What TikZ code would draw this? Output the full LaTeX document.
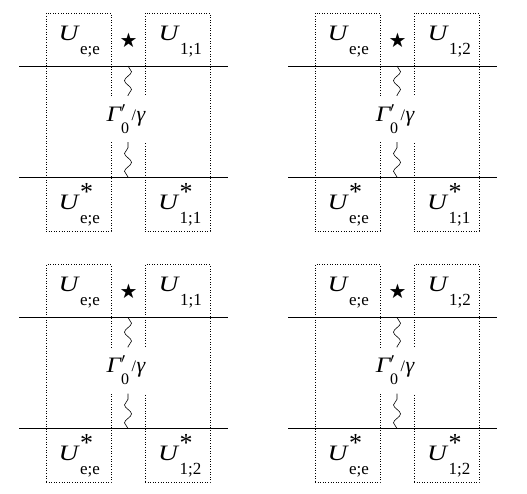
\documentclass[tikz,border=0pt]{standalone}
\usepackage{fontspec}
\setmainfont{Liberation Serif}
\newfontfamily\symfont{DejaVu Sans}
\usetikzlibrary{decorations.pathmorphing}
% U with optional superscript #1 and subscript #2
\newcommand{\Ulab}[2]{\scalebox{1.25}[1]{\fontsize{22}{22}\selectfont\itshape U}\kern1.5pt\rlap{\raisebox{9pt}{\fontsize{26}{26}\selectfont #1}}\raisebox{-14pt}{\fontsize{17}{17}\selectfont #2}}
\newcommand{\Gamlab}{\scalebox{1.15}[1]{\fontsize{22}{22}\selectfont\itshape Γ}\rlap{\raisebox{9pt}{\fontsize{15}{15}\selectfont$\prime$}}\raisebox{-12pt}{\fontsize{16}{16}\selectfont 0}\kern2.5pt\raisebox{1pt}{\fontsize{16}{16}\selectfont /}\kern0.5pt{\fontsize{22}{22}\selectfont\itshape γ}}
\newcommand{\panel}[5]{%
\begin{scope}[shift={(#2,#3)}]
  \node[dotbox, minimum width=65pt, minimum height=218pt] (#1lb) at (78.5,122) {};
  \node[dotbox, minimum width=65pt, minimum height=218pt] (#1rb) at (177.5,122) {};
  \coordinate (#1ta) at (19,66);  \coordinate (#1tb) at (228,66);
  \coordinate (#1ba) at (19,177); \coordinate (#1bb) at (228,177);
  \draw[hline] (#1ta) -- (#1tb);
  \draw[hline] (#1ba) -- (#1bb);
  \node[gam] (#1g) at (126,119) {\Gamlab};
  \coordinate (#1wt) at (128,66);
  \coordinate (#1wb) at (128,177);
  \draw[wave] (#1wt) -- (#1wt |- #1g.north);
  \draw[wave] (#1wb) -- (#1wb |- #1g.south);
  \node[lbl] (#1ul) at (58.5,40) {\Ulab{}{e;e}};
  \node[starlbl] (#1st) at (128.5,40) {★};
  \node[lbl] (#1ur) at (158.5,40) {\Ulab{}{#4}};
  \node[lbl] (#1dl) at (58.5,209) {\Ulab{*}{e;e}};
  \node[lbl] (#1dr) at (158,209) {\Ulab{*}{#5}};
\end{scope}}
\begin{document}
\begin{tikzpicture}[x=1pt,y=-1pt,
  dotbox/.style={draw, dotted, line width=0.6pt, inner sep=0pt},
  hline/.style={draw, line width=0.9pt},
  wave/.style={decorate, decoration={snake, segment length=18pt, amplitude=3.5pt}, line width=0.6pt},
  lbl/.style={inner sep=0pt, anchor=base west},
  gam/.style={fill=white, inner sep=0pt, minimum height=46pt, minimum width=44pt},
  starlbl/.style={font=\symfont\fontsize{20}{20}\selectfont, inner sep=0pt}]
\useasboundingbox (0,0) rectangle (527,493);
\panel{a}{0}{0}{1;1}{1;1}
\panel{b}{269}{0}{1;2}{1;1}
\panel{c}{0}{251.5}{1;1}{1;2}
\panel{d}{269}{251.5}{1;2}{1;2}
\end{tikzpicture}
\end{document}
